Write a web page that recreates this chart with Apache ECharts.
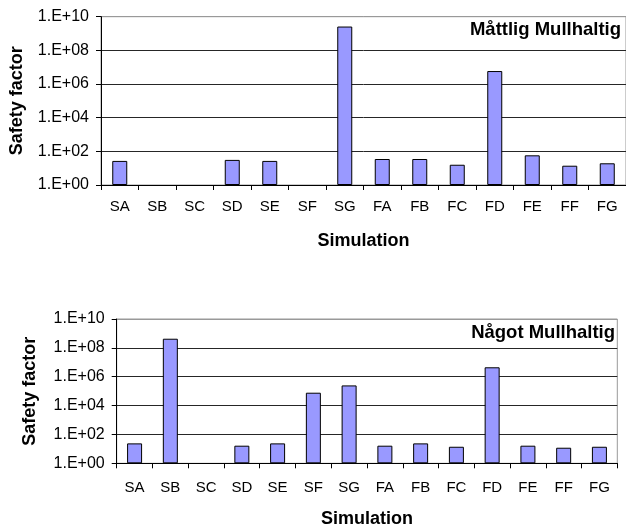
<!DOCTYPE html>
<html>
<head>
<meta charset="utf-8">
<script src="https://cdn.jsdelivr.net/npm/echarts@6/dist/echarts.min.js"></script>
<style>
html,body{margin:0;padding:0;background:#fff;}
#chart{width:626px;height:530px;}
</style>
</head>
<body>
<div id="chart"></div>
<script>
var categories = ['SA','SB','SC','SD','SE','SF','SG','FA','FB','FC','FD','FE','FF','FG'];
// Måttlig Mullhaltig (top panel); '-' = no bar
var valuesMattlig = [27, '-', '-', 31, 27, '-', 2.6e9, 35, 35, 16, 5.9e6, 58, 14, 19.5];
// Något Mullhaltig (bottom panel)
var valuesNagot = [24, 4.3e8, '-', 16.6, 24, 7.8e4, 2.5e5, 16.6, 24, 14, 4.5e6, 16.6, 12, 14];
var panelTitles = ['Måttlig Mullhaltig', 'Något Mullhaltig'];
var yAxisTitle = 'Safety factor';
var xAxisTitle = 'Simulation';

var FONT = '"Liberation Sans", Arial, sans-serif';
var chart = echarts.init(document.getElementById('chart'), null, {renderer: 'canvas'});

function yAxisCfg(idx, gap) {
  return {
    type: 'log', logBase: 10, gridIndex: idx, min: 1, max: 1e10, interval: 2,
    name: yAxisTitle, nameLocation: 'middle', nameGap: gap, nameRotate: 90,
    nameTextStyle: {fontFamily: FONT, fontSize: 18, fontWeight: 'bold', color: '#000'},
    axisLine: {show: true, lineStyle: {color: '#000', width: 1}},
    axisTick: {show: true, inside: false, length: 5, lineStyle: {color: '#000'}},
    axisLabel: {
      margin: 12, fontFamily: FONT, fontSize: 16, color: '#000',
      formatter: function (v) {
        var e = Math.round(Math.log10(v));
        return '1.E+' + (e < 10 ? '0' + e : e);
      }
    },
    splitLine: {show: true, lineStyle: {color: ['#262626','#262626','#262626','#262626','#262626','#999'], width: 1}},
    minorTick: {show: false}, minorSplitLine: {show: false}
  };
}
function xAxisCfg(idx, gap, margin) {
  return {
    type: 'category', gridIndex: idx, data: categories, boundaryGap: true,
    name: xAxisTitle, nameLocation: 'middle', nameGap: gap,
    nameTextStyle: {fontFamily: FONT, fontSize: 18, fontWeight: 'bold', color: '#000'},
    axisLine: {show: true, lineStyle: {color: '#000', width: 1}},
    axisTick: {show: true, alignWithLabel: false, length: 5, interval: 0, lineStyle: {color: '#000'}},
    axisLabel: {interval: 0, margin: margin, fontFamily: FONT, fontSize: 15, color: '#000'},
    splitLine: {show: false}
  };
}

var option = {
  animation: false,
  backgroundColor: '#fff',
  grid: [
    {left: 100, top: 16.7, width: 530.6, height: 168.3, show: true, borderColor: '#999', borderWidth: 1, backgroundColor: 'transparent'},
    {left: 116.7, top: 319, width: 500.6, height: 144.3, show: true, borderColor: '#999', borderWidth: 1, backgroundColor: 'transparent'}
  ],
  xAxis: [xAxisCfg(0, 47, 14), xAxisCfg(1, 47, 17)],
  yAxis: [yAxisCfg(0, 75), yAxisCfg(1, 78)],
  series: [
    {type: 'bar', xAxisIndex: 0, yAxisIndex: 0, data: valuesMattlig, barWidth: 15,
     itemStyle: {color: '#9999FF', borderColor: '#000', borderWidth: 1}},
    {type: 'bar', xAxisIndex: 1, yAxisIndex: 1, data: valuesNagot, barWidth: 15,
     itemStyle: {color: '#9999FF', borderColor: '#000', borderWidth: 1}}
  ],
  graphic: [
    {type: 'text', x: 621, y: 30, style: {text: panelTitles[0], align: 'right', verticalAlign: 'middle',
      font: 'bold 18.5px ' + FONT, fill: '#000'}},
    {type: 'text', x: 615, y: 333, style: {text: panelTitles[1], align: 'right', verticalAlign: 'middle',
      font: 'bold 18.5px ' + FONT, fill: '#000'}}
  ]
};
chart.setOption(option);
</script>
</body>
</html>
